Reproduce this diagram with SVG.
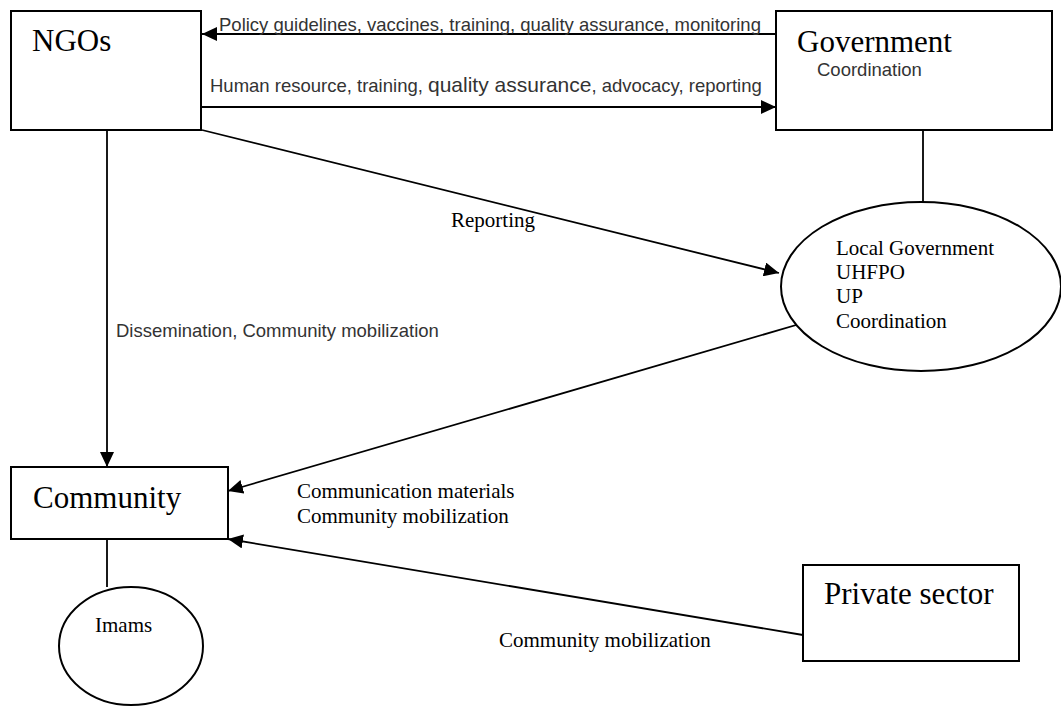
<svg xmlns="http://www.w3.org/2000/svg" width="1061" height="706" viewBox="0 0 1061 706">
<style>
.box{fill:#fff;stroke:#000;stroke-width:2}
.ell{fill:#fff;stroke:#000;stroke-width:2}
.ln{fill:none;stroke:#000;stroke-width:1.8}
.title{font-family:"Liberation Serif","Times New Roman",serif;font-size:31px;fill:#000}
.tlab{font-family:"Liberation Serif","Times New Roman",serif;font-size:21px;fill:#000}
.alab{font-family:"Liberation Sans",Arial,sans-serif;font-size:18.5px;fill:#333}
.big{font-size:21px}
</style>
<defs>
<marker id="ah" markerUnits="userSpaceOnUse" markerWidth="16" markerHeight="14" refX="15" refY="7" orient="auto">
<path d="M0,0 L15,7 L0,14 z" fill="#000"/>
</marker>
</defs>
<rect width="1061" height="706" fill="#fff"/>
<g id="connectors">
<line class="ln" x1="776" y1="34" x2="202" y2="34" marker-end="url(#ah)"/>
<line class="ln" x1="202" y1="107" x2="776" y2="107" marker-end="url(#ah)"/>
<line class="ln" x1="923" y1="131" x2="923" y2="202"/>
<line class="ln" x1="202" y1="130" x2="779" y2="273" marker-end="url(#ah)"/>
<line class="ln" x1="107" y1="130" x2="107" y2="467" marker-end="url(#ah)"/>
<line class="ln" x1="803" y1="323" x2="228" y2="491" marker-end="url(#ah)"/>
<line class="ln" x1="803" y1="635" x2="228" y2="539" marker-end="url(#ah)"/>
<line class="ln" x1="107" y1="539" x2="107" y2="587"/>
<text class="alab" x="219" y="31">Policy guidelines, vaccines, training, quality assurance, monitoring</text>
<text class="alab" x="210" y="92">Human resource, training, <tspan class="big">quality assurance</tspan>, advocacy, reporting</text>
<text class="tlab" x="451" y="227">Reporting</text>
<text class="alab" x="116" y="337">Dissemination, Community mobilization</text>
<text class="tlab" x="297" y="498">Communication materials</text>
<text class="tlab" x="297" y="523">Community mobilization</text>
<text class="tlab" x="499" y="647">Community mobilization</text>
</g>
<g id="ngos">
<rect class="box" x="11" y="11" width="190" height="119"/>
<text class="title" x="32" y="51">NGOs</text>
</g>
<g id="government">
<rect class="box" x="776" y="11" width="276" height="119"/>
<text class="title" x="797" y="52">Government</text>
<text class="alab" x="817" y="76">Coordination</text>
</g>
<g id="local-government">
<ellipse class="ell" cx="921" cy="286.5" rx="140" ry="84.5"/>
<text class="tlab" x="836" y="255">Local Government</text>
<text class="tlab" x="836" y="279">UHFPO</text>
<text class="tlab" x="836" y="303">UP</text>
<text class="tlab" x="836" y="328">Coordination</text>
</g>
<g id="community">
<rect class="box" x="11" y="467" width="217" height="72"/>
<text class="title" x="33" y="508">Community</text>
</g>
<g id="private-sector">
<rect class="box" x="803" y="565" width="216" height="96"/>
<text class="title" x="824" y="604">Private sector</text>
</g>
<g id="imams">
<ellipse class="ell" cx="131" cy="646" rx="72" ry="59"/>
<text class="tlab" x="95" y="632">Imams</text>
</g>
</svg>
